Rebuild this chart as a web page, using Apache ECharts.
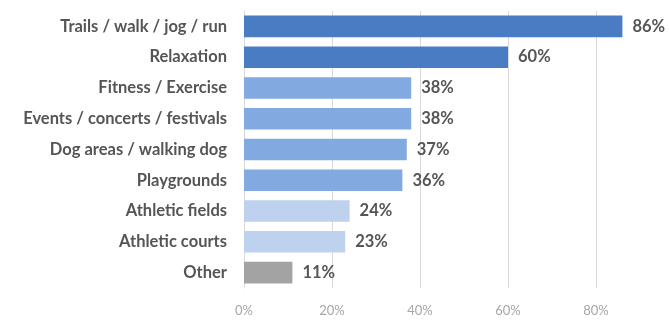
<!DOCTYPE html>
<html><head><meta charset="utf-8">
<script src="https://cdn.jsdelivr.net/npm/echarts@6/dist/echarts.min.js"></script>
<style>html,body{margin:0;padding:0;background:#fff}#c{width:670px;height:321px}</style>
</head><body><div id="c"></div>
<script>
const categories = ["Trails / walk / jog / run","Relaxation","Fitness / Exercise","Events / concerts / festivals","Dog areas / walking dog","Playgrounds","Athletic fields","Athletic courts","Other"];
const values = [86,60,38,38,37,36,24,23,11];
const barColors = ["#4a7cc4","#4a7cc4","#82aae0","#82aae0","#82aae0","#82aae0","#bed1ee","#bed1ee","#a3a3a3"];
const xTicks = [0,20,40,60,80];

const chart = echarts.init(document.getElementById('c'));
chart.setOption({
  animation:false,
  grid:{left:244,width:440,top:11,bottom:33,containLabel:false,outerBoundsMode:'none'},
  xAxis:{type:'value',min:0,max:100,interval:20,
    axisLine:{show:false},axisTick:{show:false},
    axisLabel:{formatter:v=>xTicks.includes(v)?v+'%':'',color:'#a6a6a6',fontSize:13,fontFamily:'Lato',margin:16},
    splitLine:{lineStyle:{color:'#d9d9d9',width:1}}},
  yAxis:{type:'category',data:categories,inverse:true,
    axisLine:{show:true,lineStyle:{color:'#d9d9d9'}},axisTick:{show:false},
    axisLabel:{color:'#555555',fontSize:16.5,fontWeight:'bold',fontFamily:'Lato',margin:17}},
  series:[{type:'bar',data:values.map((v,i)=>({value:v,itemStyle:{color:barColors[i]}})),
    barCategoryGap:'30%',
    label:{show:true,position:'right',distance:10,formatter:'{c}%',color:'#555555',fontSize:16.5,fontWeight:'bold',fontFamily:'Lato'}}]
});
</script></body></html>
